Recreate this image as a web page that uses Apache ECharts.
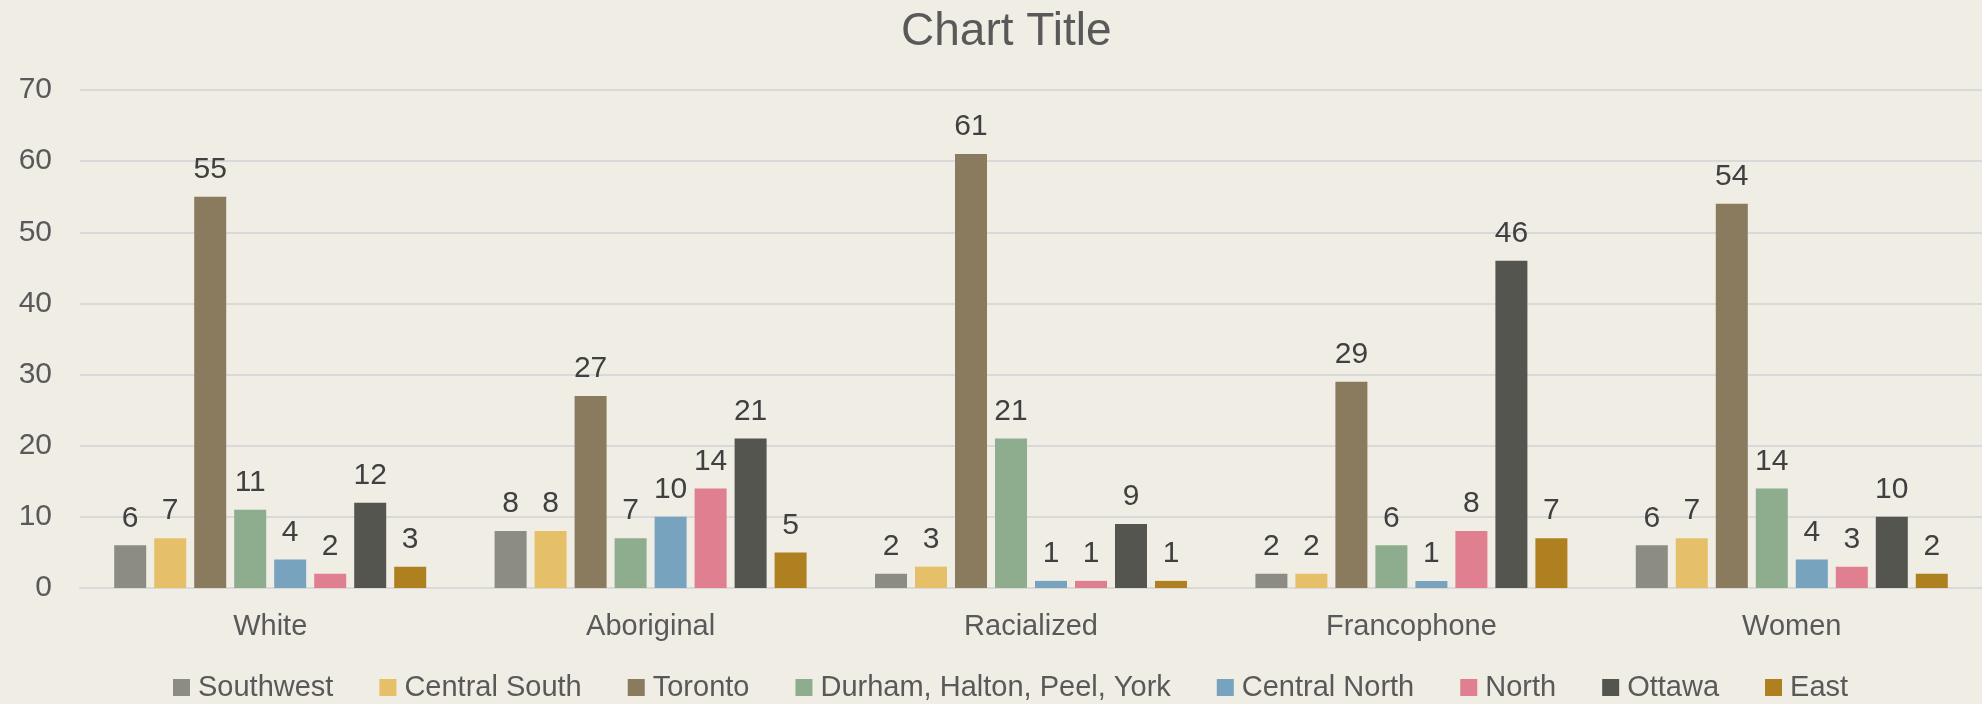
<!DOCTYPE html>
<html>
<head>
<meta charset="utf-8">
<script src="https://cdn.jsdelivr.net/npm/echarts@6/dist/echarts.min.js"></script>
<style>
html,body{margin:0;padding:0;background:#EFEDE4;}
#c{width:1982px;height:704px;}
</style>
</head>
<body>
<div id="c"></div>
<script>
const categories = ['White', 'Aboriginal', 'Racialized', 'Francophone', 'Women'];
const seriesNames = ['Southwest', 'Central South', 'Toronto', 'Durham, Halton, Peel, York', 'Central North', 'North', 'Ottawa', 'East'];
const southwest = [6, 8, 2, 2, 6];
const centralSouth = [7, 8, 3, 2, 7];
const toronto = [55, 27, 61, 29, 54];
const durham = [11, 7, 21, 6, 14];
const centralNorth = [4, 10, 1, 1, 4];
const north = [2, 14, 1, 8, 3];
const ottawa = [12, 21, 9, 46, 10];
const east = [3, 5, 1, 7, 2];
const seriesValues = [southwest, centralSouth, toronto, durham, centralNorth, north, ottawa, east];
const colors = ['#8C8C84', '#E6C069', '#8A7B5F', '#8EAD8E', '#77A3BE', '#E07F90', '#55554F', '#AF801F'];

const FONT = '"Liberation Sans", Arial, sans-serif';
const chart = echarts.init(document.getElementById('c'));
chart.setOption({
  backgroundColor: '#EFEDE4',
  animation: false,
  color: colors,
  title: {
    text: 'Chart Title',
    left: 896,
    top: 4,
    textStyle: { fontFamily: FONT, fontSize: 46, fontWeight: 'normal', color: '#595959' }
  },
  legend: {
    bottom: -3,
    left: 168,
    itemWidth: 17,
    itemHeight: 17,
    itemGap: 46,
    icon: 'rect',
    textStyle: { fontFamily: FONT, fontSize: 29, color: '#595959', padding: [0, 0, 0, 3] },
    data: seriesNames
  },
  grid: { left: 80, width: 1904, top: 90, bottom: 116, containLabel: false },
  xAxis: {
    type: 'category',
    data: categories,
    axisLine: { show: true, lineStyle: { color: '#D9D9D9', width: 2 } },
    axisTick: { show: false },
    axisLabel: { fontFamily: FONT, fontSize: 29, color: '#595959', margin: 24 }
  },
  yAxis: {
    type: 'value',
    min: 0,
    max: 70,
    interval: 10,
    axisLine: { show: false },
    axisTick: { show: false },
    axisLabel: { fontFamily: FONT, fontSize: 30, color: '#595959', margin: 28 },
    splitLine: { lineStyle: { color: '#D9D9D9', width: 2 } }
  },
  series: seriesNames.map((name, i) => ({
    name: name,
    type: 'bar',
    data: seriesValues[i],
    barWidth: 32,
    barGap: '25%',
    itemStyle: { color: colors[i] },
    label: {
      show: true,
      position: 'top',
      distance: 12,
      fontFamily: FONT,
      fontSize: 30,
      color: '#404040'
    }
  }))
});
</script>
</body>
</html>
